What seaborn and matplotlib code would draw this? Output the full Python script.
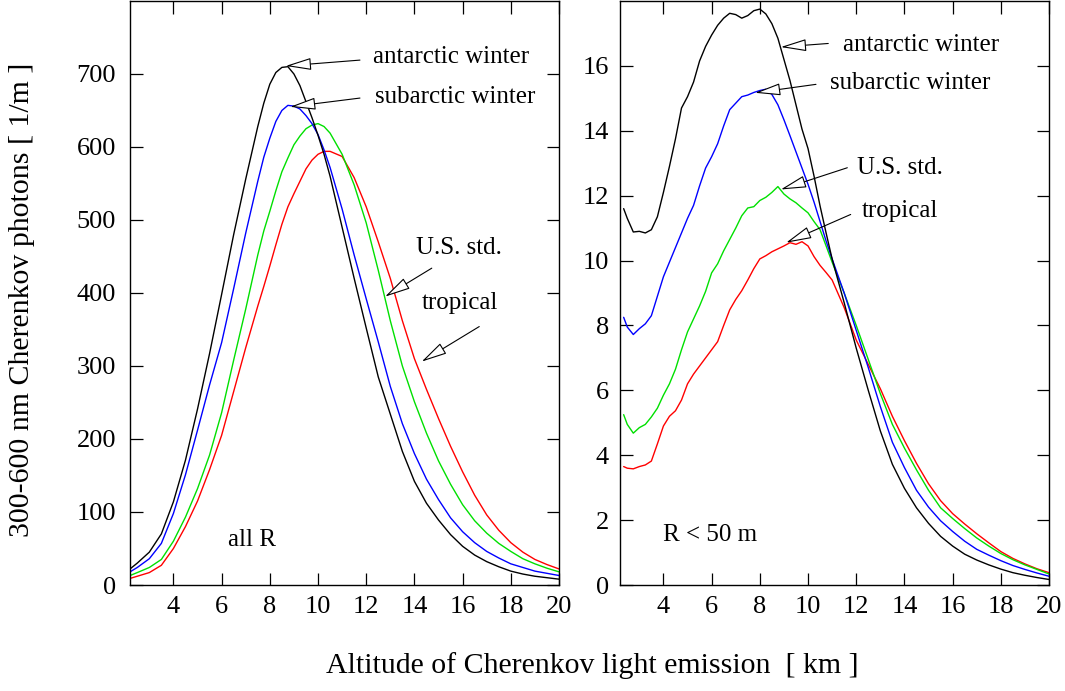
import matplotlib
matplotlib.use("Agg")
import matplotlib.pyplot as plt
import seaborn as sns
import pandas as pd

# Emission altitude grids [km]
alt_all = [2.2, 2.5, 3.0, 3.5, 4.0, 4.5, 5.0, 5.5, 6.0, 6.5, 7.0,
           7.5, 7.75, 8.0, 8.25, 8.5, 8.75, 9.0, 9.25, 9.5, 9.75, 10.0, 10.25, 10.5,
           11.0, 11.5, 12.0, 12.5, 13.0, 13.5, 14.0, 14.5, 15.0, 15.5, 16.0, 16.5,
           17.0, 17.5, 18.0, 18.5, 19.0, 19.5, 20.0]

alt_core = [2.35, 2.5, 2.75, 3.0, 3.25, 3.5, 3.75, 4.0, 4.25, 4.5, 4.75, 5.0, 5.25,
            5.5, 5.75, 6.0, 6.25, 6.5, 6.75, 7.0, 7.25, 7.5, 7.75, 8.0, 8.25, 8.5,
            8.75, 9.0, 9.25, 9.5, 9.75, 10.0, 10.25, 10.5, 10.75, 11.0,
            11.5, 12.0, 12.5, 13.0, 13.5, 14.0, 14.5, 15.0, 15.5, 16.0, 16.5, 17.0,
            17.5, 18.0, 18.5, 19.0, 19.5, 20.0]

# Photons per metre, all core distances
antarctic_all = [22, 30, 45, 70, 114, 171, 241, 317, 398, 480, 556,
                 628, 660, 686, 702, 709, 710, 700, 684, 662, 640, 616, 590, 560,
                 490, 420, 352, 285, 234, 183, 142, 112, 89, 69, 53, 41,
                 32, 25, 19, 15, 12, 10, 8]
subarctic_all = [18, 24, 36, 57, 98, 151, 212, 274, 332, 406, 482,
                 553, 586, 612, 635, 650, 657, 656, 652, 643, 632, 617, 596, 572,
                 515, 452, 392, 333, 272, 221, 180, 145, 117, 92, 73, 58,
                 46, 37, 29, 24, 19, 16, 13]
usstd_all = [13, 17, 24, 35, 60, 93, 132, 178, 236, 308, 378,
             452, 485, 512, 540, 566, 585, 603, 615, 625, 630, 632, 628, 619,
             590, 548, 496, 431, 362, 300, 251, 208, 170, 138, 110, 88,
             71, 57, 46, 36, 29, 23, 18]
tropical_all = [9, 12, 17, 27, 50, 80, 115, 158, 205, 265, 325,
                382, 409, 437, 466, 494, 518, 536, 553, 570, 582, 590, 594, 594,
                587, 558, 518, 470, 420, 362, 310, 268, 228, 190, 155, 123,
                96, 75, 58, 45, 35, 28, 22]

# Photons per metre, R < 50 m
antarctic_core = [11.6, 11.3, 10.88, 10.9, 10.85, 10.95, 11.35, 12.1, 12.9, 13.75, 14.7,
                  15.05, 15.5, 16.15, 16.6, 16.95, 17.25, 17.47, 17.62, 17.58, 17.47,
                  17.55, 17.7, 17.75, 17.6, 17.3, 16.85, 16.2, 15.55, 14.8, 14.05,
                  13.45, 12.6, 11.68, 10.85, 10.05,
                  8.7, 7.3, 6.0, 4.75, 3.72, 2.98, 2.38, 1.9, 1.5, 1.2, 0.95, 0.77,
                  0.62, 0.49, 0.38, 0.3, 0.23, 0.17]
subarctic_core = [8.25, 7.95, 7.72, 7.9, 8.05, 8.3, 8.9, 9.5, 9.95, 10.4, 10.85,
                  11.3, 11.7, 12.3, 12.85, 13.2, 13.6, 14.15, 14.65, 14.85, 15.05,
                  15.1, 15.18, 15.24, 15.28, 15.12, 14.8, 14.34, 13.85, 13.35, 12.85,
                  12.35, 11.8, 11.2, 10.6, 10.05,
                  9.0, 7.85, 6.7, 5.5, 4.4, 3.62, 2.92, 2.4, 1.98, 1.65, 1.35, 1.1,
                  0.92, 0.75, 0.6, 0.48, 0.37, 0.27]
usstd_core = [5.25, 4.95, 4.68, 4.85, 4.95, 5.18, 5.45, 5.85, 6.2, 6.65, 7.25,
              7.8, 8.2, 8.6, 9.05, 9.62, 9.9, 10.3, 10.65, 11.0, 11.38,
              11.62, 11.66, 11.85, 11.95, 12.1, 12.28, 12.05, 11.9, 11.78, 11.62,
              11.47, 11.2, 10.95, 10.45, 9.95,
              9.0, 8.0, 6.95, 5.9, 4.95, 4.22, 3.55, 2.92, 2.38, 2.05, 1.74, 1.45,
              1.2, 0.97, 0.78, 0.62, 0.48, 0.34]
tropical_core = [3.65, 3.6, 3.58, 3.65, 3.7, 3.82, 4.35, 4.9, 5.2, 5.37, 5.7,
                 6.2, 6.5, 6.75, 7.0, 7.25, 7.5, 8.0, 8.48, 8.8, 9.07,
                 9.4, 9.75, 10.05, 10.15, 10.27, 10.36, 10.45, 10.55, 10.5, 10.58,
                 10.45, 10.12, 9.85, 9.63, 9.4,
                 8.55, 7.55, 6.8, 6.05, 5.2, 4.45, 3.75, 3.12, 2.6, 2.2, 1.88, 1.58,
                 1.3, 1.03, 0.82, 0.65, 0.5, 0.38]

atmospheres = ["antarctic winter", "subarctic winter", "U.S. std.", "tropical"]
line_colors = ["#000000", "#0000ff", "#00e000", "#ff0000"]

x_ticks = [4, 6, 8, 10, 12, 14, 16, 18, 20]
y_ticks_all = [0, 100, 200, 300, 400, 500, 600, 700]
y_ticks_core = [0, 2, 4, 6, 8, 10, 12, 14, 16]


def long_table(alt, series):
    frames = []
    for name, vals in zip(atmospheres, series):
        frames.append(pd.DataFrame({"alt": alt, "photons": vals, "atm": name}))
    return pd.concat(frames, ignore_index=True)


df_all = long_table(alt_all, [antarctic_all, subarctic_all, usstd_all, tropical_all])
df_core = long_table(alt_core, [antarctic_core, subarctic_core, usstd_core, tropical_core])

sns.set_theme(style="ticks")
plt.rcParams["font.family"] = ["Liberation Serif", "DejaVu Serif"]
plt.rcParams["text.color"] = "black"
plt.rcParams["axes.labelcolor"] = "black"

fig = plt.figure(figsize=(10.65, 6.91), dpi=100)
ax1 = fig.add_axes([0.1221, 0.1534, 0.4028, 0.8452])
ax2 = fig.add_axes([0.5822, 0.1534, 0.4028, 0.8452])

palette = dict(zip(atmospheres, line_colors))
for ax, df in ((ax1, df_all), (ax2, df_core)):
    sns.lineplot(data=df, x="alt", y="photons", hue="atm", palette=palette,
                 hue_order=atmospheres[::-1], legend=False, errorbar=None,
                 linewidth=1.0, ax=ax)
    ax.set_xlim(2.2, 20)
    ax.set_xticks(x_ticks)
    ax.set_xlabel("")
    ax.set_ylabel("")
    ax.tick_params(direction="in", top=True, right=True, length=9, width=0.9,
                   labelsize=19, pad=8, colors="black")
    for sp in ax.spines.values():
        sp.set_linewidth(1.0)
        sp.set_color("black")
        sp.set_visible(True)

ax1.set_ylim(0, 800)
ax1.set_yticks(y_ticks_all)
ax1.tick_params(axis="y", pad=10)
ax2.set_ylim(0, 18)
ax2.set_yticks(y_ticks_core)

arrow = dict(arrowstyle="-|>,head_length=1.6,head_width=0.38", fc="white",
             ec="black", lw=0.8, shrinkA=0, shrinkB=0, mutation_scale=10)
label_font = dict(fontsize=18, ha="left", va="center", color="black")

# annotations, all R
notes_all = [
    ("antarctic winter", (12.28, 723), (11.74, 719), (8.66, 711)),
    ("subarctic winter", (12.37, 668), (11.74, 667), (8.84, 655)),
    ("U.S. std.", (14.08, 462), (14.72, 434), (12.78, 395)),
    ("tropical", (14.32, 386), (16.69, 354), (14.3, 306)),
]
for txt, tpos, tail, tip in notes_all:
    ax1.text(*tpos, txt, **label_font)
    ax1.annotate("", xy=tip, xytext=tail, arrowprops=arrow)
ax1.text(6.27, 62, "all R", **label_font)

# annotations, R < 50 m
notes_core = [
    ("antarctic winter", (11.47, 16.64), (10.84, 16.69), (8.87, 16.58)),
    ("subarctic winter", (10.91, 15.46), (10.33, 15.43), (7.8, 15.17)),
    ("U.S. std.", (12.05, 12.86), (11.63, 12.86), (8.87, 12.19)),
    ("tropical", (12.23, 11.54), (11.77, 11.42), (9.09, 10.55)),
]
for txt, tpos, tail, tip in notes_core:
    ax2.text(*tpos, txt, **label_font)
    ax2.annotate("", xy=tip, xytext=tail, arrowprops=arrow)
ax2.text(4.0, 1.54, "R < 50 m", **label_font)

fig.text(0.556, 0.037, "Altitude of Cherenkov light emission  [ km ]",
         ha="center", va="center", fontsize=21.5, color="black")
fig.text(0.021, 0.566, "300-600 nm Cherenkov photons [ 1/m ]",
         ha="center", va="center", rotation=90, fontsize=21.5, color="black")

fig.savefig("out.png", dpi=100, facecolor="white")
